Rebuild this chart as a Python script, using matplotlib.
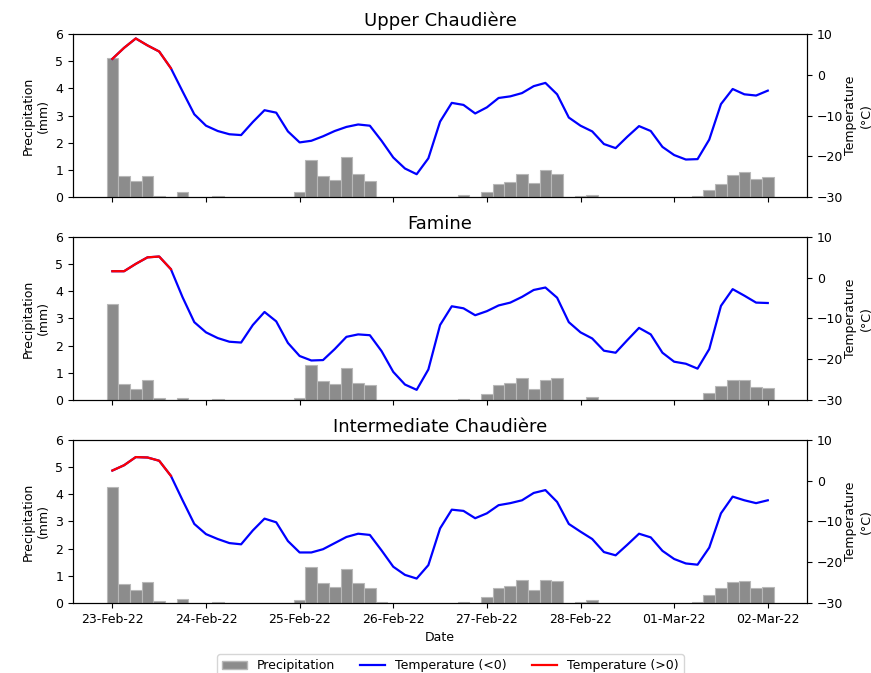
import numpy as np
import pandas as pd
import matplotlib
matplotlib.use("Agg")
import matplotlib.pyplot as plt
import matplotlib.dates as mdates
from matplotlib.patches import Patch
from matplotlib.lines import Line2D

plt.rcParams["font.size"] = 9

# 3-hourly series, 23-Feb-22 00:00 to 02-Mar-22 00:00
dates = pd.date_range("2022-02-23 00:00", periods=57, freq="3h")

stations = ["Upper Chaudière", "Famine", "Intermediate Chaudière"]

precip_upper = [5.1, 0.76, 0.58, 0.79, 0.04, 0, 0.18, 0, 0, 0.02,
                0, 0, 0, 0, 0, 0, 0.18, 1.35, 0.76, 0.63,
                1.46, 0.85, 0.6, 0.01, 0, 0, 0, 0, 0, 0,
                0.07, 0, 0.2, 0.47, 0.57, 0.85, 0.5, 0.98, 0.85, 0,
                0.02, 0.09, 0, 0, 0, 0, 0, 0, 0, 0,
                0.04, 0.27, 0.47, 0.81, 0.92, 0.65, 0.73]
temp_upper = [3.9, 6.6, 8.9, 7.2, 5.7, 1.6, -4.1, -9.7, -12.5, -13.8,
              -14.6, -14.8, -11.6, -8.7, -9.3, -13.9, -16.6, -16.2, -15.1, -13.8,
              -12.8, -12.2, -12.5, -16.2, -20.3, -23.0, -24.4, -20.5, -11.5, -6.9,
              -7.4, -9.5, -8.0, -5.7, -5.3, -4.5, -2.8, -2.0, -4.8, -10.5,
              -12.5, -13.9, -17.0, -18.0, -15.2, -12.6, -13.8, -17.7, -19.7, -20.8,
              -20.7, -15.9, -7.2, -3.5, -4.8, -5.1, -3.9]

precip_famine = [3.55, 0.6, 0.42, 0.75, 0.07, 0, 0.09, 0.01, 0, 0.05,
                 0, 0, 0, 0, 0, 0, 0.06, 1.28, 0.71, 0.58,
                 1.16, 0.63, 0.57, 0.01, 0, 0, 0, 0, 0, 0,
                 0.02, 0, 0.22, 0.57, 0.62, 0.81, 0.41, 0.75, 0.81, 0,
                 0.01, 0.11, 0, 0, 0, 0, 0, 0, 0, 0,
                 0.01, 0.27, 0.53, 0.75, 0.75, 0.49, 0.45]
temp_famine = [1.6, 1.6, 3.4, 5.0, 5.2, 2.1, -4.8, -10.9, -13.4, -14.8,
               -15.7, -15.9, -11.6, -8.4, -10.7, -16.0, -19.2, -20.3, -20.2, -17.5,
               -14.5, -13.9, -14.1, -18.0, -23.1, -26.2, -27.5, -22.5, -11.6, -7.0,
               -7.5, -9.2, -8.2, -6.8, -6.1, -4.7, -3.0, -2.4, -4.9, -10.9,
               -13.4, -14.9, -17.9, -18.4, -15.3, -12.3, -13.9, -18.4, -20.6, -21.1,
               -22.3, -17.5, -6.9, -2.8, -4.4, -6.1, -6.2]

precip_inter = [4.26, 0.69, 0.48, 0.77, 0.07, 0, 0.13, 0, 0, 0.05,
                0, 0, 0, 0, 0, 0, 0.12, 1.33, 0.75, 0.6,
                1.26, 0.72, 0.55, 0.02, 0, 0, 0, 0, 0, 0,
                0.05, 0, 0.22, 0.54, 0.63, 0.86, 0.47, 0.86, 0.81, 0,
                0.04, 0.11, 0, 0, 0, 0, 0, 0, 0, 0,
                0.04, 0.29, 0.54, 0.79, 0.82, 0.56, 0.59]
temp_inter = [2.5, 3.8, 5.8, 5.7, 4.9, 1.2, -4.8, -10.6, -13.1, -14.3,
              -15.3, -15.6, -12.2, -9.3, -10.2, -14.8, -17.6, -17.6, -16.8, -15.3,
              -13.8, -13.0, -13.3, -17.1, -21.1, -23.1, -24.0, -20.7, -11.7, -7.1,
              -7.4, -9.2, -8.0, -6.0, -5.5, -4.8, -3.0, -2.3, -5.2, -10.6,
              -12.5, -14.3, -17.5, -18.3, -15.7, -13.0, -13.9, -17.2, -19.2, -20.3,
              -20.6, -16.4, -8.0, -3.9, -4.8, -5.5, -4.8]

precips = [precip_upper, precip_famine, precip_inter]
temps = [temp_upper, temp_famine, temp_inter]

fig, axes = plt.subplots(3, 1, figsize=(8.71, 6.73), dpi=100, sharex=True)
fig.subplots_adjust(left=0.084, right=0.9265, top=0.9495, bottom=0.104, hspace=0.245)

for ax, name, p, t in zip(axes, stations, precips, temps):
    t = np.array(t)
    ax.bar(dates, p, width=0.125, color="#8c8c8c", edgecolor="#b8b8b8", linewidth=0.8)
    ax.set_ylim(0, 6)
    ax.set_yticks(range(7))
    ax.set_ylabel("Precipitation\n(mm)")
    ax.set_title(name, fontsize=13)

    ax2 = ax.twinx()
    ax2.plot(dates, t, color="blue", lw=1.6)
    # red where temperature is above zero (continuous up to the crossing point)
    warm = np.where(t > 0, t, np.nan)
    ax2.plot(dates, warm, color="red", lw=1.6)
    ax2.set_ylim(-30, 10)
    ax2.set_yticks([-30, -20, -10, 0, 10])
    ax2.set_ylabel("Temperature\n(°C)", labelpad=1)

axes[-1].xaxis.set_major_locator(mdates.DayLocator())
axes[-1].xaxis.set_major_formatter(mdates.DateFormatter("%d-%b-%y"))
axes[-1].set_xlabel("Date")

handles = [Patch(facecolor="#8c8c8c", edgecolor="#b8b8b8"),
           Line2D([], [], color="blue", lw=1.6),
           Line2D([], [], color="red", lw=1.6)]
fig.legend(handles, ["Precipitation", "Temperature (<0)", "Temperature (>0)"],
           loc="upper center", bbox_to_anchor=(0.517, 0.037), ncol=3)

plt.savefig("out.png", dpi=100)
